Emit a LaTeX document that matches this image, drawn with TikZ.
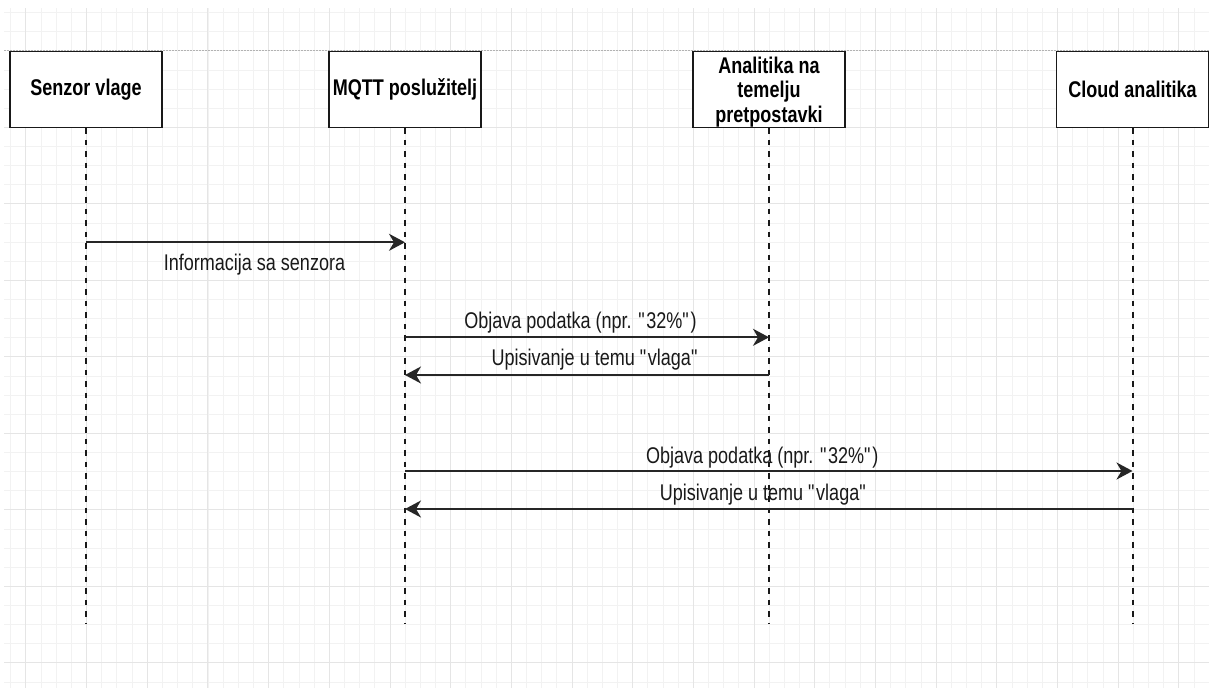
\documentclass[tikz,border=0pt]{standalone}
\usepackage{fontspec}
\setmainfont{Liberation Sans}[FakeStretch=0.794]
\usetikzlibrary{arrows.meta}
\tikzset{
    grid-minor/.style = {draw=black!5, line width=0.8pt},
    grid-major/.style = {draw=black!10, line width=0.9pt},
    page-line/.style = {draw=black!30, line width=0.8pt, dash pattern=on 1.5pt off 1.5pt},
    actor-box/.style = {draw=black!90, fill=white, line width=1.8pt, rectangle, minimum width=152pt, minimum height=76pt, inner sep=0pt, align=center, font=\fontsize{22.7}{24.5}\selectfont\bfseries},
    life-line/.style = {draw=black!90, line width=2pt, dash pattern=on 5.5pt off 6pt},
    msg-arrow/.style = {draw=black!85, line width=2pt, -{Stealth[length=16pt, width=17pt, inset=5pt]}},
    msg-label/.style = {font=\fontsize{22.7}{24}\selectfont, text=black!90, inner sep=0pt, anchor=base},
}

\begin{document}
\begin{tikzpicture}[x=1pt, y=-1pt]
\useasboundingbox (0,0) rectangle (1209,688);
\fill[white] (0,0) rectangle (1209,688);
\begin{scope}
    \clip (4,8) rectangle (1209,688);
    \foreach \i in {0,...,79} \draw[grid-minor] ({10.7+15.17*\i},8) -- ++(0,680);
    \foreach \k in {-6,...,29} \draw[grid-minor] (4,{127.3+19.125*\k}) -- ++(1205,0);
    \foreach \i in {0,...,19} \draw[grid-major] ({25.87+60.68*\i},8) -- ++(0,680);
    \foreach \k in {1,...,8} \draw[grid-major] (4,{50.8+76.5*\k}) -- ++(1205,0);
\end{scope}
\draw[page-line] (4,50.8) -- (1209,50.8);

\node[actor-box] (senzor) at (86,89.5) {Senzor vlage};
\node[actor-box] (mqtt) at (405,89.5) {MQTT poslužitelj};
\node[actor-box, text height=70pt] (analitika) at (769,89.5) {Analitika na\\temelju\\pretpostavki};
\node[actor-box] (cloud) at (1132.5,89.5) {Cloud analitika};

\coordinate (bottom) at (0,623);
\coordinate (m1) at (0,242.3);
\coordinate (m2) at (0,337.3);
\coordinate (m3) at (0,375);
\coordinate (m4) at (0,471);
\coordinate (m5) at (0,509);

\foreach \a in {senzor, mqtt, analitika, cloud}
    \draw[life-line] (\a.south) -- (\a |- bottom);

\draw[msg-arrow] (senzor |- m1) -- node[msg-label, pos=0.528, yshift=-28.4pt] {Informacija sa senzora} (mqtt |- m1);
\draw[msg-arrow] (mqtt |- m2) -- node[msg-label, pos=0.482, yshift=9pt] {Objava podatka (npr. \textquotedbl32\%\textquotedbl)} (analitika |- m2);
\draw[msg-arrow] (analitika |- m3) -- node[msg-label, pos=0.477, yshift=9.5pt] {Upisivanje u temu \textquotedbl vlaga\textquotedbl} (mqtt |- m3);
\draw[msg-arrow] (mqtt |- m4) -- node[msg-label, pos=0.491, yshift=8pt] {Objava podatka (npr. \textquotedbl32\%\textquotedbl)} (cloud |- m4);
\draw[msg-arrow] (cloud |- m5) -- node[msg-label, pos=0.507, yshift=9pt] {Upisivanje u temu \textquotedbl vlaga\textquotedbl} (mqtt |- m5);
\end{tikzpicture}
\end{document}
